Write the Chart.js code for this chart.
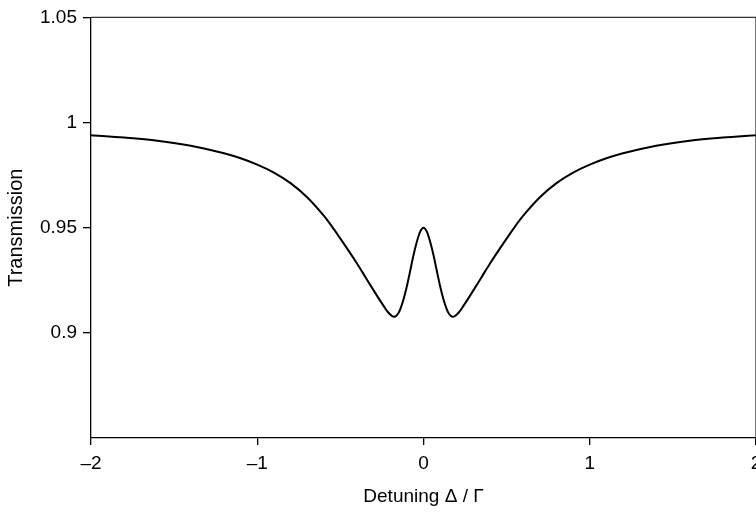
<!DOCTYPE html>
<html>
<head>
<meta charset="utf-8">
<script src="https://cdn.jsdelivr.net/npm/chart.js@4"></script>
<style>
html,body{margin:0;padding:0;background:#fff;overflow:hidden;width:756px;height:512px;}
#wrap{position:absolute;left:0;top:0;width:800px;height:512px;}
</style>
</head>
<body>
<div id="wrap"><canvas id="c" width="800" height="512"></canvas></div>
<script>
// Left half of the curve (detuning <= 0); the plotted curve is mirror symmetric.
const detuningLeft = [-2, -1.8, -1.6, -1.4, -1.2, -1.1, -1.0, -0.9, -0.8, -0.7, -0.6, -0.55, -0.5, -0.45, -0.4, -0.35, -0.3, -0.26, -0.24, -0.22, -0.2, -0.19, -0.18, -0.17, -0.16, -0.15, -0.14, -0.12, -0.1, -0.08, -0.06, -0.04, -0.02, 0];
const transmissionLeft = [0.9940, 0.9929, 0.9914, 0.9890, 0.9854, 0.9830, 0.9800, 0.9762, 0.9712, 0.9645, 0.9557, 0.9505, 0.9448, 0.9390, 0.9330, 0.9266, 0.9202, 0.9152, 0.9128, 0.9105, 0.9087, 0.9080, 0.9077, 0.9078, 0.9084, 0.9095, 0.9112, 0.9160, 0.9222, 0.9295, 0.9370, 0.9433, 0.9481, 0.9500];
const detuningRight = [0.02, 0.04, 0.06, 0.08, 0.1, 0.12, 0.14, 0.15, 0.16, 0.17, 0.18, 0.19, 0.2, 0.22, 0.24, 0.26, 0.3, 0.35, 0.4, 0.45, 0.5, 0.55, 0.6, 0.7, 0.8, 0.9, 1.0, 1.1, 1.2, 1.4, 1.6, 1.8, 2];
const transmissionRight = [0.9481, 0.9433, 0.9370, 0.9295, 0.9222, 0.9160, 0.9112, 0.9095, 0.9084, 0.9078, 0.9077, 0.9080, 0.9087, 0.9105, 0.9128, 0.9152, 0.9202, 0.9266, 0.9330, 0.9390, 0.9448, 0.9505, 0.9557, 0.9645, 0.9712, 0.9762, 0.9800, 0.9830, 0.9854, 0.9890, 0.9914, 0.9929, 0.9940];
const xTicks = [-2, -1, 0, 1, 2];
const yTicks = [0.9, 0.95, 1, 1.05];
const xLabel = 'Detuning Δ / Γ';
const yLabel = 'Transmission';

const detuning = detuningLeft.concat(detuningRight);
const transmission = transmissionLeft.concat(transmissionRight);
const pts = detuning.map((x, i) => ({x: x, y: transmission[i]}));
const fmt = v => (v < 0 ? '\u2013' + Math.abs(v) : String(v));

const boxPlugin = {
  id: 'box',
  afterDraw(chart) {
    const a = chart.chartArea, ctx = chart.ctx;
    ctx.save();
    ctx.lineWidth = 1.3;
    ctx.strokeStyle = '#333';
    ctx.beginPath();
    ctx.moveTo(a.left, a.top);
    ctx.lineTo(a.right, a.top);
    ctx.lineTo(a.right, a.bottom);
    ctx.stroke();
    ctx.restore();
  }
};

new Chart(document.getElementById('c'), {
  type: 'line',
  data: { datasets: [{ data: pts, borderColor: '#000', borderWidth: 2, pointRadius: 0, fill: false, cubicInterpolationMode: 'monotone' }] },
  options: {
    responsive: false,
    animation: false,
    layout: { padding: { left: 0, top: 15, right: 44, bottom: 0 } },
    plugins: { legend: { display: false }, tooltip: { enabled: false } },
    scales: {
      x: {
        type: 'linear', min: -2, max: 2,
        afterBuildTicks: s => { s.ticks = xTicks.map(v => ({value: v})); },
        afterFit: s => { s.height = 74; },
        grid: { display: true, drawOnChartArea: false, drawTicks: true, tickLength: 7, color: '#000', lineWidth: 1.3 },
        border: { display: true, color: '#000', width: 1.3 },
        ticks: { color: '#000', font: { family: 'Liberation Sans', size: 19 }, padding: 7, maxRotation: 0, callback: v => fmt(v) },
        title: { display: true, text: xLabel, color: '#000', font: { family: 'Liberation Sans', size: 19 }, padding: { top: 4, bottom: 4 } }
      },
      y: {
        type: 'linear', min: 0.85, max: 1.05,
        afterBuildTicks: s => { s.ticks = yTicks.map(v => ({value: v})); },
        afterFit: s => { s.width = 91; },
        grid: { display: true, drawOnChartArea: false, drawTicks: true, tickLength: 8, color: '#000', lineWidth: 1.3 },
        border: { display: true, color: '#000', width: 1.3 },
        ticks: { color: '#000', font: { family: 'Liberation Sans', size: 19 }, padding: 6, callback: v => fmt(v) },
        title: { display: true, text: yLabel, color: '#000', font: { family: 'Liberation Sans', size: 20 }, padding: { top: 4, bottom: 4 } }
      }
    }
  },
  plugins: [boxPlugin]
});
</script>
</body>
</html>
